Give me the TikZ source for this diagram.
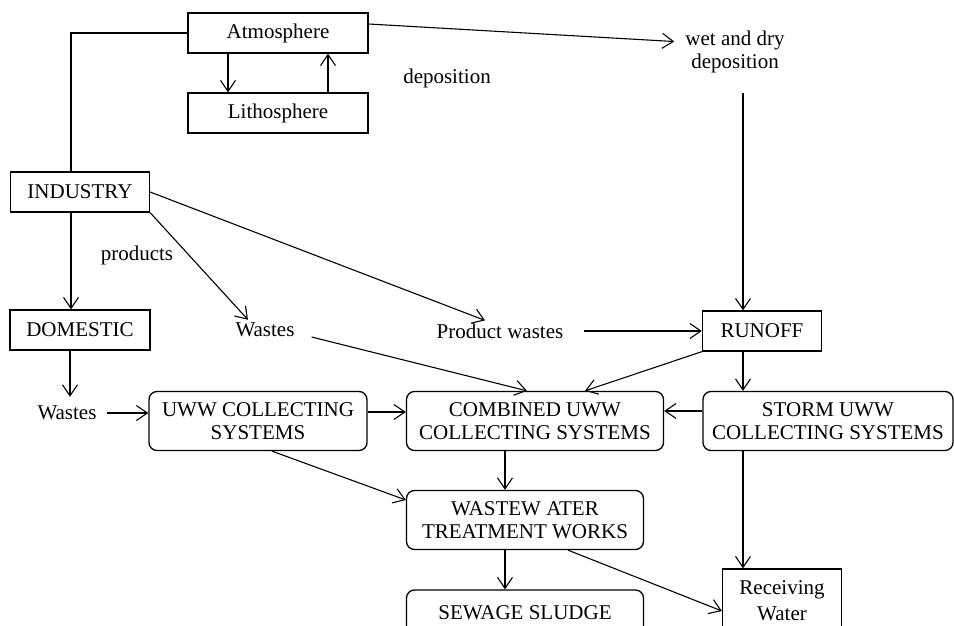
\documentclass[tikz,border=0pt]{standalone}
\usepackage{fontspec}
\setmainfont{Liberation Serif}
\usetikzlibrary{positioning, calc, arrows.meta}

\begin{document}
\begin{tikzpicture}[
    % x = y = 1pt, y runs downward: coordinates are the pixels of the reference
    x=1pt, y=-1pt,
    lbl/.style={font=\fontsize{21}{23}\selectfont, align=center, inner sep=3pt},
    sqbox/.style={lbl, draw, line width=1.3pt, minimum height=40pt},
    rbox/.style={lbl, draw, line width=1.3pt, rounded corners=8pt,
                 minimum height=59pt},
    arr/.style={-{Straight Barb[length=11pt, width=15pt]}, line width=1.1pt},
    ln/.style={line width=1.1pt}
  ]
  \useasboundingbox (0,0) rectangle (954,626);

  % ── Top: atmosphere / lithosphere exchange ─────────────────────────────
  \node[sqbox, minimum width=180pt] (atmo)  at (278, 33)  {Atmosphere};
  \node[sqbox, minimum width=180pt] (litho) at (278,113)  {Lithosphere};
  \node[lbl] (dep)    at (447, 78) {deposition};
  \node[lbl] (wetdry) at (735, 52) {wet and dry\\deposition};
  \coordinate (wdfoot) at (743, 93);

  \draw[arr] ([xshift=-50pt]atmo.south) -- ([xshift=-50pt]litho.north);
  \draw[arr] ([xshift=50pt]litho.north) -- ([xshift=50pt]atmo.south);
  \draw[arr, shorten >=8pt] ([yshift=9pt]atmo.east) -- ([yshift=10pt]wetdry.west);

  % ── Sources: industry and domestic ───────────────────────────────────
  \node[sqbox, minimum width=139pt] (industry) at ( 80,192) {INDUSTRY};
  \node[sqbox, minimum width=140pt] (domestic) at ( 80,330) {DOMESTIC};
  \node[sqbox, minimum width=119pt] (runoff)   at (762,331) {RUNOFF};

  \node[lbl] (products)   at (137,255) {products};
  \node[lbl] (wastesA)    at (265,330) {Wastes};
  \node[lbl] (prodwastes) at (500,331) {Product wastes};
  \node[lbl] (wastesB)    at ( 67,413) {Wastes};

  \draw[ln]  (atmo.west) -| ([xshift=-9pt]industry.north);
  \draw[arr] ([xshift=-9pt]industry.south) -- ([xshift=-9pt]domestic.north);
  \draw[arr] (industry.south east) -- ([xshift=-17pt]wastesA.north);
  \draw[arr] (industry.east) -- ([xshift=-15pt]prodwastes.north);
  \draw[arr, shorten <=18pt] (prodwastes.east) -- (runoff.west);
  \draw[arr] (wdfoot) -- (wdfoot |- runoff.north);
  \draw[arr, shorten >=6pt] ([xshift=-10pt]domestic.south)
        -- ([xshift=-10pt]domestic.south |- wastesB.north);

  % ── Collecting systems (rounded boxes) ──────────────────────────────
  \node[rbox, minimum width=218pt] (uww)   at (258,421) {UWW COLLECTING\\SYSTEMS};
  \node[rbox, minimum width=257pt] (comb)  at (535,421) {COMBINED UWW\\COLLECTING SYSTEMS};
  \node[rbox, minimum width=250pt] (storm) at (828,421) {STORM UWW\\COLLECTING SYSTEMS};

  \draw[arr, shorten <=7pt] (wastesB.east) -- (wastesB.east -| uww.west);
  \draw[arr] ([yshift=9pt]uww.east) -- ([yshift=9pt]comb.west);
  \draw[arr] ([yshift=10pt]storm.west) -- ([yshift=10pt]comb.east);
  \draw[arr] ([xshift=14pt,yshift=-7pt]wastesA.east) -- ([xshift=-8pt]comb.north);
  \draw[arr] (runoff.south west) -- ([xshift=50pt]comb.north);
  \draw[arr] (wdfoot |- runoff.south) -- (wdfoot |- storm.north);

  % ── Treatment and outlets (cut off at the lower edge) ─────────────────
  \node[rbox, minimum width=237pt] (wwtw)   at (525,520) {WASTEW ATER\\TREATMENT WORKS};
  \node[rbox, minimum width=237pt, minimum height=46pt] (sludge) at (525,613) {SEWAGE SLUDGE};
  \node[sqbox, minimum width=119pt, minimum height=64pt,
        font=\fontsize{21}{26}\selectfont] (recv) at (782,601) {Receiving\\Water};

  \draw[arr] ([xshift=-20pt]wwtw.north |- comb.south) -- ([xshift=-20pt]wwtw.north);
  \draw[arr] ([xshift=14pt]uww.south) -- ([yshift=20pt]wwtw.west);
  \draw[arr] ([xshift=-20pt]wwtw.south) -- ([xshift=-20pt]sludge.north);
  \draw[arr] ([xshift=43pt]wwtw.south) -- ([yshift=-10pt]recv.west);
  \draw[arr] (wdfoot |- storm.south) -- (wdfoot |- recv.north);

  \end{tikzpicture}
\end{document}
